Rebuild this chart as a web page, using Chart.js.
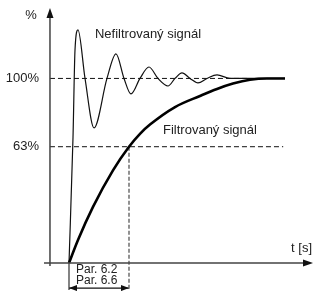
<!DOCTYPE html>
<html>
<head>
<meta charset="utf-8">
<script src="https://cdn.jsdelivr.net/npm/chart.js@4.4.1/dist/chart.umd.min.js"></script>
<style>
  body { margin: 0; background: #fff; }
</style>
</head>
<body>
<canvas id="filterChart" width="315" height="291"></canvas>
<script>
// time in units of the filter time constant (Par. 6.2 / 6.6), values in %
var rawTime = [0, 0.067, 0.1, 0.15, 0.267, 0.417, 0.633, 0.783, 0.917, 1.033, 1.183, 1.333, 1.483, 1.65, 1.767, 1.883, 2.017, 2.15, 2.3, 2.467, 2.683, 3.6];
var rawValue = [0, 68.3, 115.4, 126.3, 100, 73.2, 100, 113.3, 100, 91.6, 100, 106.2, 100, 95.9, 100, 103, 100, 97.6, 100, 101.9, 100, 100];

var filtTime = [0, 0.15, 0.4, 0.733, 1.0, 1.183, 1.35, 1.767, 2.183, 2.467, 2.733, 3.017, 3.3, 3.6];
var filtValue = [0, 12.5, 30.4, 50.2, 63, 70, 75, 84.5, 90.5, 94.3, 97.2, 99.3, 100, 100];

var tickValues = [100, 63];
var tickLabels = ['100%', '63%'];
var tau = 1.0;

var curveLabels = ['Nefiltrovaný signál', 'Filtrovaný signál'];
var parLabels = ['Par. 6.2', 'Par. 6.6'];

var axisT = -0.317;   // where the value axis crosses the time axis
var fontFamily = '"Liberation Sans", Arial, sans-serif';
var ink = '#222';

function pairs(xs, ys) {
    return xs.map(function (x, i) { return { x: x, y: ys[i] }; });
}

function arrowHead(ctx, x, y, dir, len, half) {
    // dir: 'up', 'right', 'left'
    ctx.beginPath();
    if (dir == 'up') {
        ctx.moveTo(x, y); ctx.lineTo(x - half, y + len); ctx.lineTo(x + half, y + len);
    } else if (dir == 'right') {
        ctx.moveTo(x, y); ctx.lineTo(x - len, y - half); ctx.lineTo(x - len, y + half);
    } else {
        ctx.moveTo(x, y); ctx.lineTo(x + len, y - half); ctx.lineTo(x + len, y + half);
    }
    ctx.closePath();
    ctx.fill();
}

var decorations = {
    id: 'decorations',
    afterDatasetsDraw: function (chart) {
        var ctx = chart.ctx;
        var xs = chart.scales.x, ys = chart.scales.y;
        var ax = xs.getPixelForValue(axisT);
        var ay0 = ys.getPixelForValue(0);

        ctx.save();
        // axes
        ctx.strokeStyle = '#444';
        ctx.fillStyle = '#111';
        ctx.lineWidth = 1.5;
        ctx.beginPath();
        ctx.moveTo(ax, ys.getPixelForValue(-1.6));
        ctx.lineTo(ax, ys.getPixelForValue(134));
        ctx.moveTo(xs.getPixelForValue(-0.417), ay0);
        ctx.lineTo(xs.getPixelForValue(3.95), ay0);
        ctx.stroke();
        arrowHead(ctx, ax, ys.getPixelForValue(138.2), 'up', 10, 3.5);
        arrowHead(ctx, xs.getPixelForValue(4.067), ay0, 'right', 10, 3.5);

        // dimension arrows for the time constant
        var dy = ys.getPixelForValue(-13.6);
        arrowHead(ctx, xs.getPixelForValue(0), dy, 'left', 8, 3);
        arrowHead(ctx, xs.getPixelForValue(tau), dy, 'right', 8, 3);

        // texts
        ctx.font = '13px ' + fontFamily;
        ctx.fillStyle = ink;
        ctx.textBaseline = 'middle';
        ctx.textAlign = 'right';
        var lx = xs.getPixelForValue(-0.5);
        tickValues.forEach(function (v, i) {
            ctx.fillText(tickLabels[i], lx, ys.getPixelForValue(v));
        });
        ctx.fillText('%', xs.getPixelForValue(-0.535), ys.getPixelForValue(134.4));
        ctx.fillText('t [s]', xs.getPixelForValue(4.05), ys.getPixelForValue(8.1));

        ctx.textAlign = 'left';
        ctx.fillText(curveLabels[0], xs.getPixelForValue(0.433), ys.getPixelForValue(123.6));
        ctx.fillText(curveLabels[1], xs.getPixelForValue(1.567), ys.getPixelForValue(72.1));
        ctx.font = '12px ' + fontFamily;
        ctx.fillText(parLabels[0], xs.getPixelForValue(0.117), ys.getPixelForValue(-3.8));
        ctx.fillText(parLabels[1], xs.getPixelForValue(0.117), ys.getPixelForValue(-9.8));
        ctx.restore();
    }
};

new Chart('filterChart', {
    type: 'line',
    data: {
        datasets: [{
            label: curveLabels[1],
            data: pairs(filtTime, filtValue),
            borderColor: '#000',
            borderWidth: 2.6,
            cubicInterpolationMode: 'monotone',
            pointRadius: 0
        }, {
            label: curveLabels[0],
            data: pairs(rawTime, rawValue),
            borderColor: '#111',
            borderWidth: 1.2,
            cubicInterpolationMode: 'monotone',
            pointRadius: 0
        }, {
            // 100% guide
            data: [{ x: axisT, y: 100 }, { x: 3.0, y: 100 }],
            borderColor: '#111',
            borderWidth: 1,
            borderDash: [5, 3],
            pointRadius: 0
        }, {
            // 63% guide
            data: [{ x: axisT, y: 63 }, { x: 3.57, y: 63 }],
            borderColor: '#111',
            borderWidth: 1,
            borderDash: [5, 3],
            pointRadius: 0
        }, {
            // drop line at the time constant
            data: [{ x: tau, y: 63 }, { x: tau, y: -14.6 }],
            borderColor: '#777',
            borderWidth: 1.6,
            borderDash: [4, 2],
            pointRadius: 0
        }, {
            // left edge of the dimension bracket
            data: [{ x: 0, y: 0 }, { x: 0, y: -14.6 }],
            borderColor: '#333',
            borderWidth: 1.2,
            pointRadius: 0
        }, {
            // dimension line
            data: [{ x: 0, y: -13.6 }, { x: tau, y: -13.6 }],
            borderColor: '#111',
            borderWidth: 1.2,
            pointRadius: 0
        }]
    },
    options: {
        responsive: false,
        animation: false,
        layout: { padding: 0 },
        plugins: {
            legend: { display: false },
            tooltip: { enabled: false }
        },
        scales: {
            x: { type: 'linear', min: -1.15, max: 4.1, display: false },
            y: { type: 'linear', min: -15.18, max: 142.5, display: false }
        }
    },
    plugins: [decorations]
});
</script>
</body>
</html>
